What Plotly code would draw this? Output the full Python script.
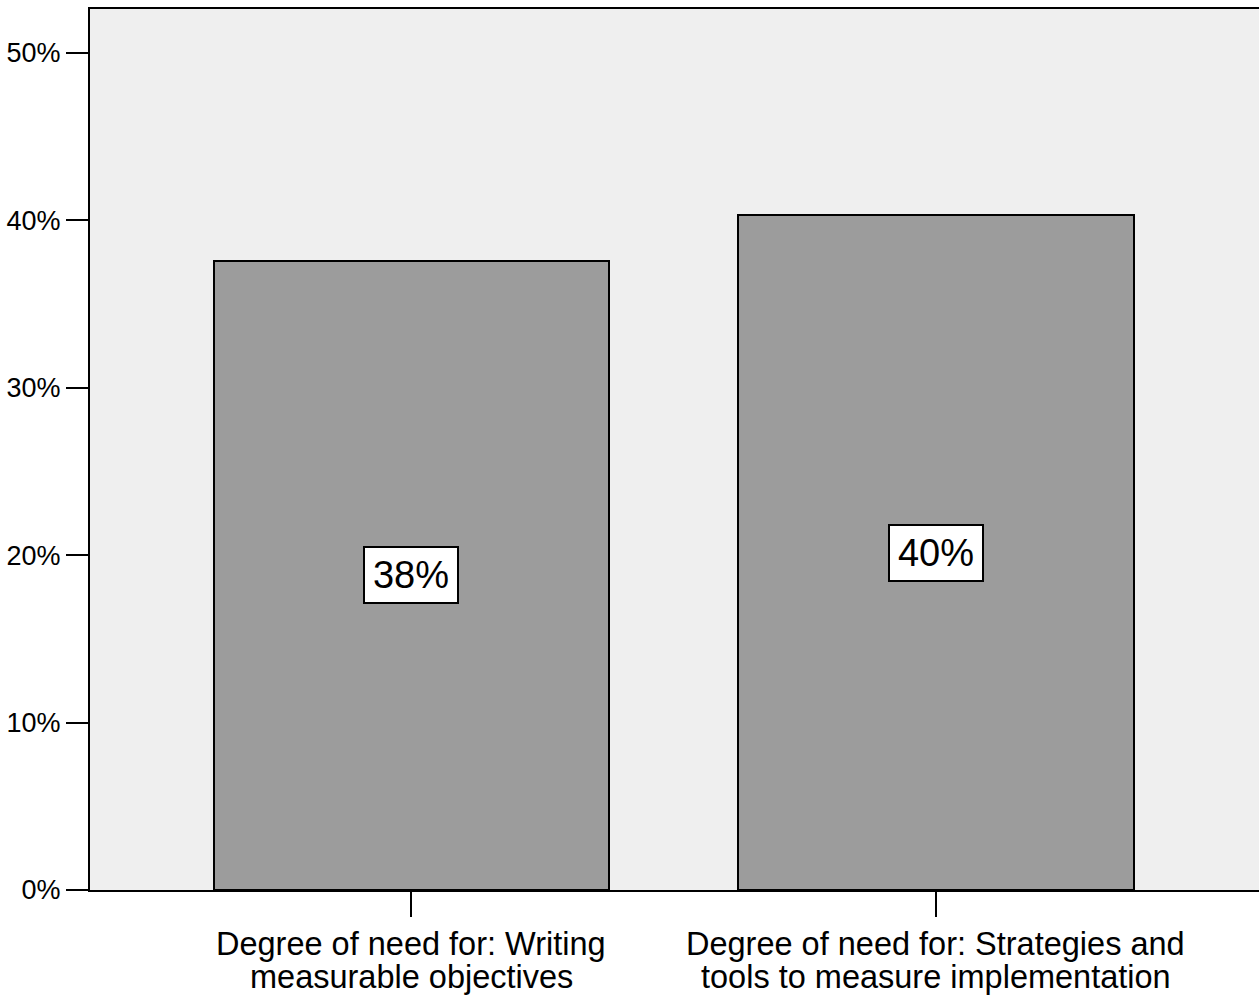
import plotly.graph_objects as go

# Share of respondents reporting a need, per training topic
categories = ["Writing measurable objectives", "Strategies and tools to measure implementation"]
label_lines = [
    ["Degree of need for: Writing", "measurable objectives"],
    ["Degree of need for: Strategies and", "tools to measure implementation"],
]
percent = [37.6, 40.3]
y_ticks = [0, 10, 20, 30, 40, 50]

FONT = "Liberation Sans, Arial, sans-serif"

fig = go.Figure()
fig.add_trace(go.Bar(
    x=categories,
    y=percent,
    width=0.755,
    marker=dict(color="#9c9c9c", line=dict(color="#000000", width=2)),
    hoverinfo="skip",
))

# Value boxes at mid-height of each bar
for cat, v in zip(categories, percent):
    fig.add_annotation(
        x=cat, y=v / 2, xref="x", yref="y",
        text=f"{round(v)}%", showarrow=False,
        font=dict(family=FONT, size=38, color="#000000"),
        bgcolor="#ffffff", bordercolor="#000000", borderwidth=2,
        borderpad=3, width=86, height=48,
        xanchor="center", yanchor="middle",
    )

# Two-line category captions under the axis
for cat, lines in zip(categories, label_lines):
    for i, line in enumerate(lines):
        fig.add_annotation(
            x=cat, y=-0.0615 - 0.0375 * i, xref="x", yref="paper",
            text=line, showarrow=False,
            font=dict(family=FONT, size=32.5, color="#000000"),
            xanchor="center", yanchor="middle",
        )

fig.update_layout(
    width=1260, height=999,
    margin=dict(l=90, r=1, t=9, b=109),
    paper_bgcolor="#ffffff",
    plot_bgcolor="#efefef",
    showlegend=False,
    bargap=0,
)
fig.update_xaxes(
    type="category",
    range=[-0.613, 1.616],
    showticklabels=False,
    ticks="outside", ticklen=25, tickwidth=2, tickcolor="#000000",
    showline=True, linecolor="#000000", linewidth=2, mirror=True,
    showgrid=False, zeroline=False,
)
fig.update_yaxes(
    range=[0, 52.63],
    tickvals=y_ticks,
    ticktext=[f"{t}%" for t in y_ticks],
    ticks="outside", ticklen=22, tickwidth=2, tickcolor="#000000",
    tickfont=dict(family=FONT, size=27, color="#000000"),
    showline=True, linecolor="#000000", linewidth=2,
    showgrid=False, zeroline=False,
)

fig.write_html("out.html")
